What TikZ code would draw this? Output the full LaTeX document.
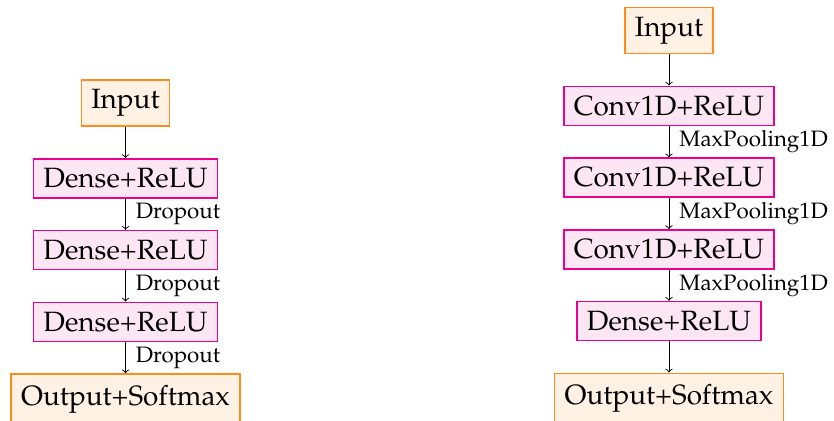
\documentclass[tikz,border=0pt]{standalone}
\usepackage[T1]{fontenc}
\usepackage{mathpazo}
\usetikzlibrary{positioning}

\tikzset{
	iobox/.style={draw=orange!90, fill=orange!10, line width=0.8pt, inner xsep=5pt, inner ysep=4.75pt, font=\fontsize{13.95}{16}\selectfont},
	layerbox/.style={draw=magenta, fill=magenta!10, line width=0.8pt, inner xsep=5pt, inner ysep=4.75pt, font=\fontsize{13.95}{16}\selectfont},
	lbl/.style={right, inner xsep=5pt, font=\fontsize{11.15}{13}\selectfont}
}

\begin{document}
\begin{tikzpicture}[node distance=15.6pt, >=to, line width=0.45pt]
\useasboundingbox (0,0) rectangle (417pt,-210.5pt);

% dense network
\node[iobox] (inA) at (62.75pt,-51.5pt) {Input};
\node[layerbox, below=of inA] (denseA1) {Dense+ReLU};
\node[layerbox, below=of denseA1] (denseA2) {Dense+ReLU};
\node[layerbox, below=of denseA2] (denseA3) {Dense+ReLU};
\node[iobox, inner ysep=5.6pt, below=of denseA3] (outA) {Output+Softmax};

\draw [->] (inA) -- (denseA1);
\foreach \a/\b in {denseA1/denseA2, denseA2/denseA3, denseA3/outA} {
	\draw [->] (\a) -- node[lbl] {Dropout} (\b);
}

% convolutional network
\node[iobox] (inB) at (334.5pt,-15.25pt) {Input};
\node[layerbox, below=of inB] (convB1) {Conv1D+ReLU};
\node[layerbox, below=of convB1] (convB2) {Conv1D+ReLU};
\node[layerbox, below=of convB2] (convB3) {Conv1D+ReLU};
\node[layerbox, below=of convB3] (denseB) {Dense+ReLU};
\node[iobox, inner ysep=5.6pt, below=of denseB] (outB) {Output+Softmax};

\draw [->] (inB) -- (convB1);
\foreach \a/\b in {convB1/convB2, convB2/convB3, convB3/denseB} {
	\draw [->] (\a) -- node[lbl] {MaxPooling1D} (\b);
}
\draw [->] (denseB) -- (outB);

\end{tikzpicture}
\end{document}
